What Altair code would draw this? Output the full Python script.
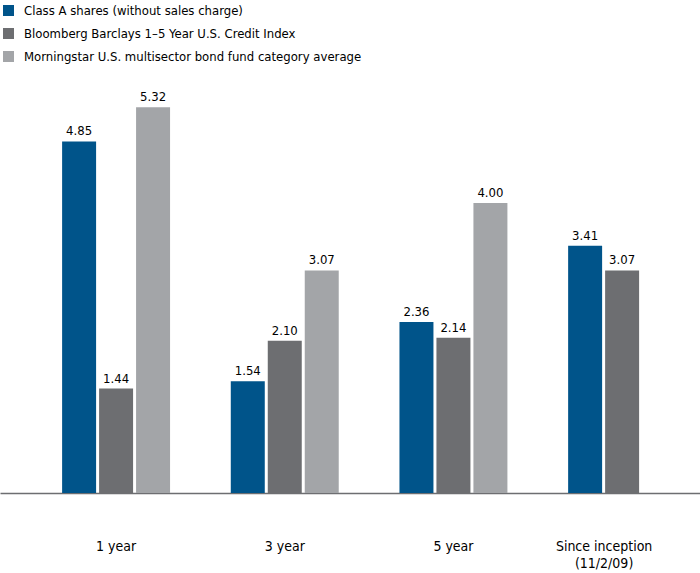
import altair as alt
import pandas as pd

categories = ["1 year", "3 year", "5 year", "Since inception (11/2/09)"]
series = [
    "Class A shares (without sales charge)",
    "Bloomberg Barclays 1–5 Year U.S. Credit Index",
    "Morningstar U.S. multisector bond fund category average",
]
class_a = [4.85, 1.54, 2.36, 3.41]
bloomberg = [1.44, 2.10, 2.14, 3.07]
morningstar = [5.32, 3.07, 4.00, None]
colors = ["#00548a", "#6d6e71", "#a3a5a8"]

rows = []
for s, vals in zip(series, [class_a, bloomberg, morningstar]):
    for c, v in zip(categories, vals):
        if v is not None:
            rows.append({"period": c, "series": s, "value": v})
df = pd.DataFrame(rows)

FONT = "Liberation Sans Narrow, DejaVu Sans Condensed, sans-serif"

x = alt.X(
    "period:N",
    sort=categories,
    scale=alt.Scale(paddingInner=0.36, paddingOuter=0.255, align=0.722),
    axis=alt.Axis(
        title=None,
        ticks=False,
        domainColor="#6d6e71",
        domainWidth=1.5,
        labelAngle=0,
        labelFont=FONT,
        labelFontSize=14,
        labelColor="#000000",
        labelPadding=46,
        labelLineHeight=17,
        labelBaseline="top",
        labelExpr="datum.value == 'Since inception (11/2/09)' ? ['Since inception', '(11/2/09)'] : datum.label",
        labelOffset={"condition": {"test": "datum.value == 'Since inception (11/2/09)'", "value": -18}, "value": 0},
    ),
)
xo = alt.XOffset("series:N", sort=series, scale=alt.Scale(paddingInner=0.081, paddingOuter=0))
y = alt.Y("value:Q", scale=alt.Scale(domain=[0, 5.6], nice=False), axis=None)

bars = alt.Chart(df).mark_bar().encode(
    x=x,
    xOffset=xo,
    y=y,
    color=alt.Color(
        "series:N",
        sort=series,
        scale=alt.Scale(domain=series, range=colors),
        legend=alt.Legend(
            title=None,
            orient="none",
            legendX=2,
            legendY=-83,
            symbolType="square",
            symbolSize=121,
            symbolStrokeWidth=0,
            labelFont=FONT,
            labelFontSize=13,
            labelColor="#000000",
            labelOffset=9,
            labelLimit=600,
            rowPadding=9,
            symbolOffset=0,
            padding=0,
        ),
    ),
)

labels = alt.Chart(df).mark_text(
    baseline="bottom", dy=-3, font=FONT, fontSize=13, color="#000000"
).encode(
    x=alt.X("period:N", sort=categories),
    xOffset=alt.XOffset("series:N", sort=series),
    y=alt.Y("value:Q", axis=None),
    text=alt.Text("value:Q", format=".2f"),
)

chart = (
    alt.layer(bars, labels)
    .properties(width=700, height=406, padding={"left": 0, "top": 87, "right": 0, "bottom": 80},
                autosize=alt.AutoSizeParams(type="none"), background="#ffffff")
    .configure_view(strokeWidth=0, stroke="transparent")
)

chart.save("out.html", embed_options={"renderer": "svg", "actions": False})
